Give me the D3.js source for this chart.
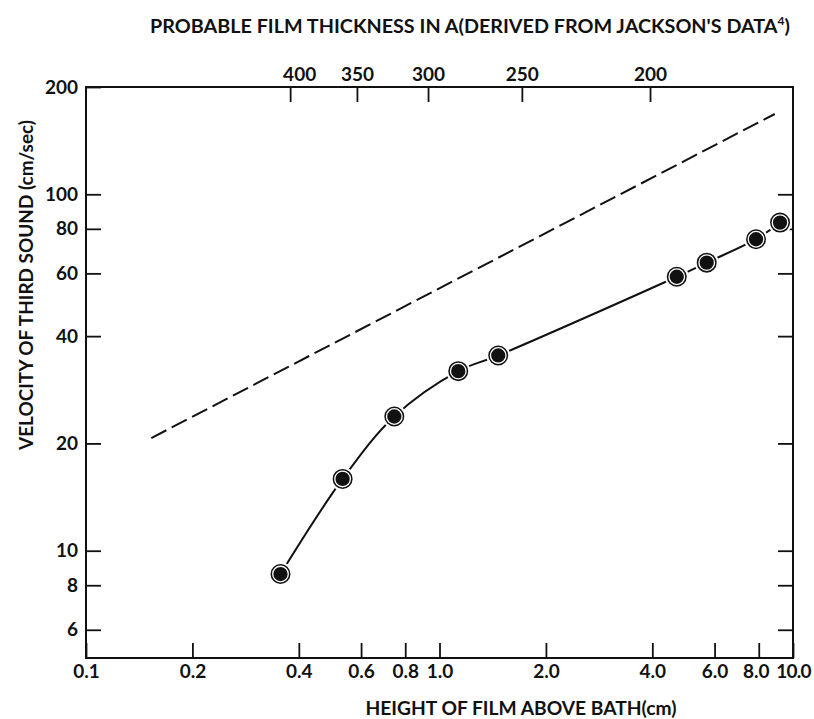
<!DOCTYPE html>
<html>
<head>
<meta charset="utf-8">
<script src="https://cdn.jsdelivr.net/npm/d3@7"></script>
<style>
  body { margin: 0; background: #fff; }
  text { font-family: Lato, "DejaVu Sans", sans-serif; font-weight: bold; fill: #111; }
</style>
</head>
<body>
<div id="chart"></div>
<script>
// measured points, height of film (cm) vs velocity of third sound (cm/sec)
const heightCm = [0.355, 0.532, 0.745, 1.13, 1.466, 4.69, 5.70, 7.86, 9.19];
const velocity = [8.6, 15.9, 23.8, 31.9, 35.3, 58.7, 64.3, 74.8, 83.3];

// dashed reference line (end points)
const dashHeight = [0.153, 8.88];
const dashVelocity = [20.7, 168];

// top axis: film thickness labels and the heights they sit at
const thicknessLabels = ["400", "350", "300", "250", "200"];
const thicknessAtHeight = [0.378, 0.584, 0.928, 1.71, 3.94];

const xTicks = [0.1, 0.2, 0.4, 0.6, 0.8, 1.0, 2.0, 4.0, 6.0, 8.0, 10.0];
const xTickLabels = ["0.1", "0.2", "0.4", "0.6", "0.8", "1.0", "2.0", "4.0", "6.0", "8.0", "10.0"];
const yTicks = [200, 100, 80, 60, 40, 20, 10, 8, 6];
const yRightTicks = [100, 80, 60, 40, 20, 10, 8, 6];

const width = 814;
const height = 719;
const margin = { top: 87, right: 21, bottom: 61, left: 86 };

const svg = d3.select("#chart")
  .append("svg")
  .attr("width", width)
  .attr("height", height);

const x = d3.scaleLog()
  .domain([0.1, 10])
  .range([margin.left, width - margin.right]);

const y = d3.scaleLog()
  .domain([5, 200])
  .range([height - margin.bottom, margin.top]);

const tickLen = 15;

// bottom axis
const xAxis = svg.append("g")
  .attr("transform", `translate(0,${height - margin.bottom})`)
  .call(d3.axisBottom(x)
    .tickValues(xTicks)
    .tickFormat((d, i) => xTickLabels[i])
    .tickSize(-tickLen)
    .tickPadding(7));

// left axis
const yAxis = svg.append("g")
  .attr("transform", `translate(${margin.left},0)`)
  .call(d3.axisLeft(y)
    .tickValues(yTicks)
    .tickFormat(d3.format("d"))
    .tickSize(-tickLen)
    .tickPadding(8));

// right axis, ticks only
const yAxisR = svg.append("g")
  .attr("transform", `translate(${width - margin.right},0)`)
  .call(d3.axisRight(y)
    .tickValues(yRightTicks)
    .tickFormat("")
    .tickSize(-tickLen));

// top axis with film thickness
const topAxis = svg.append("g")
  .attr("transform", `translate(0,${margin.top})`)
  .call(d3.axisTop(x)
    .tickValues(thicknessAtHeight)
    .tickFormat((d, i) => thicknessLabels[i])
    .tickSize(-tickLen)
    .tickPadding(6));

[xAxis, yAxis, yAxisR, topAxis].forEach(g => {
  g.select(".domain").remove();
  g.selectAll("line").attr("stroke", "#111").attr("stroke-width", 1.8);
  g.selectAll("text")
    .attr("fill", "#111")
    .style("font-size", "19px")
    .style("font-family", "Lato, DejaVu Sans, sans-serif")
    .style("font-weight", "bold");
});
// the 400 label sits a little right of its tick; tighten 8.0 / 10.0 at the corner
topAxis.select(".tick text").attr("dx", 9);
xAxis.selectAll(".tick text").filter(d => d === 10).style("letter-spacing", "-0.8px");
xAxis.selectAll(".tick text").filter(d => d === 8).attr("dx", -3);

// frame
svg.append("rect")
  .attr("x", margin.left)
  .attr("y", margin.top)
  .attr("width", width - margin.left - margin.right)
  .attr("height", height - margin.top - margin.bottom)
  .attr("fill", "none")
  .attr("stroke", "#111")
  .attr("stroke-width", 2);

// dashed line
const dashData = dashHeight.map((h, i) => ({ h: h, v: dashVelocity[i] }));
svg.append("path")
  .datum(dashData)
  .attr("fill", "none")
  .attr("stroke", "#111")
  .attr("stroke-width", 2)
  .attr("stroke-dasharray", "17,6")
  .attr("d", d3.line().x(d => x(d.h)).y(d => y(d.v)));

// smooth curve through data
const pts = heightCm.map((h, i) => ({ h: h, v: velocity[i] }));
svg.append("path")
  .datum(pts)
  .attr("fill", "none")
  .attr("stroke", "#111")
  .attr("stroke-width", 2)
  .attr("d", d3.line().x(d => x(d.h)).y(d => y(d.v)).curve(d3.curveCatmullRom.alpha(0.5)));

// markers: black ring, thin white ring, black core
const marks = svg.selectAll("g.mark")
  .data(pts)
  .enter()
  .append("g")
  .attr("class", "mark")
  .attr("transform", d => `translate(${x(d.h)},${y(d.v)})`);

marks.append("circle").attr("r", 11).attr("fill", "#111").attr("stroke", "#fff").attr("stroke-width", 2);
marks.append("circle").attr("r", 7.8).attr("fill", "none").attr("stroke", "#fff").attr("stroke-width", 1.3);

// titles
const title = svg.append("text")
  .attr("x", 470)
  .attr("y", 33)
  .attr("text-anchor", "middle")
  .attr("textLength", 640)
  .attr("lengthAdjust", "spacingAndGlyphs")
  .style("font-size", "18px");
title.append("tspan").text("PROBABLE FILM THICKNESS IN A(DERIVED FROM JACKSON'S DATA");
title.append("tspan").attr("dy", -8).style("font-size", "11px").text("4");
title.append("tspan").attr("dy", 8).text(")");

svg.append("text")
  .attr("x", 521)
  .attr("y", 715)
  .attr("text-anchor", "middle")
  .attr("textLength", 311)
  .attr("lengthAdjust", "spacingAndGlyphs")
  .style("font-size", "18px")
  .text("HEIGHT OF FILM ABOVE BATH(cm)");

svg.append("text")
  .attr("transform", "translate(33,285) rotate(-90)")
  .attr("text-anchor", "middle")
  .attr("textLength", 330)
  .attr("lengthAdjust", "spacingAndGlyphs")
  .style("font-size", "18px")
  .text("VELOCITY OF THIRD SOUND (cm/sec)");
</script>
</body>
</html>
